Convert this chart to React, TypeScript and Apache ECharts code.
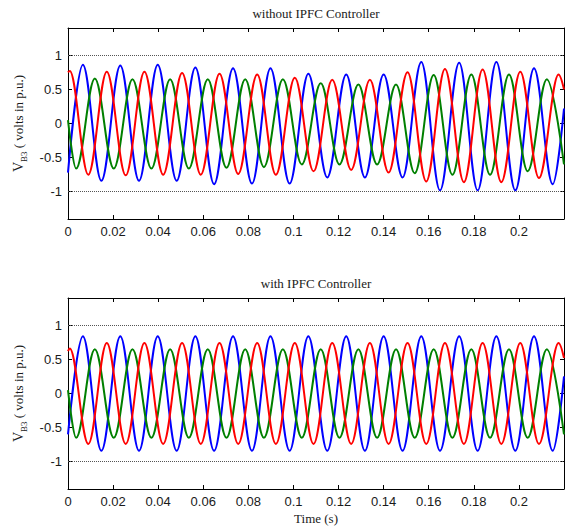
import React, { useEffect, useRef } from "react";
import * as echarts from "echarts";

// ---- data (times in s, values in p.u.) ----
// extrema (peaks / troughs) of each phase, plus the first and last sample
const blueT = [0, 0.0066, 0.0148, 0.0232, 0.0315, 0.0398, 0.0482, 0.0565, 0.0648, 0.0732, 0.0816, 0.0898, 0.0983, 0.1066, 0.115, 0.1234, 0.1317, 0.14, 0.1484, 0.1567, 0.165, 0.1735, 0.1817, 0.19, 0.1984, 0.2067, 0.215, 0.22];
const redT = [0, 0.0008, 0.009, 0.0172, 0.0256, 0.0339, 0.0422, 0.0506, 0.0589, 0.0672, 0.0755, 0.0839, 0.0922, 0.1006, 0.1089, 0.1172, 0.1256, 0.1339, 0.1422, 0.1506, 0.1589, 0.1672, 0.1756, 0.1839, 0.1922, 0.2006, 0.2089, 0.2176, 0.22];
const greenT = [0, 0.0036, 0.0119, 0.0203, 0.0286, 0.037, 0.0453, 0.0536, 0.062, 0.0703, 0.0786, 0.0869, 0.0953, 0.1037, 0.1121, 0.1204, 0.1288, 0.1371, 0.1455, 0.1538, 0.1622, 0.1705, 0.1789, 0.1872, 0.1956, 0.2039, 0.2124, 0.22];

// without IPFC controller
const blueTop = [-0.72, 0.86, -0.84, 0.85, -0.84, 0.86, -0.84, 0.82, -0.89, 0.81, -0.88, 0.81, -0.88, 0.73, -0.79, 0.72, -0.79, 0.72, -0.79, 0.9, -0.98, 0.89, -0.98, 0.9, -0.98, 0.81, -0.89, 0.22];
const redTop = [0.75, 0.77, -0.75, 0.76, -0.76, 0.76, -0.75, 0.74, -0.75, 0.73, -0.74, 0.72, -0.75, 0.67, -0.7, 0.64, -0.68, 0.64, -0.72, 0.75, -0.85, 0.8, -0.86, 0.79, -0.86, 0.76, -0.8, 0.72, 0.5];
const greenTop = [0.05, -0.66, 0.66, -0.66, 0.65, -0.66, 0.65, -0.66, 0.65, -0.65, 0.65, -0.64, 0.65, -0.6, 0.59, -0.6, 0.57, -0.6, 0.57, -0.73, 0.71, -0.75, 0.72, -0.75, 0.72, -0.7, 0.65, -0.6];

// with IPFC controller
const blueBottom = [-0.6, 0.84, -0.84, 0.84, -0.84, 0.84, -0.84, 0.84, -0.84, 0.84, -0.84, 0.84, -0.84, 0.84, -0.84, 0.84, -0.84, 0.84, -0.84, 0.84, -0.84, 0.84, -0.84, 0.84, -0.84, 0.84, -0.84, 0.25];
const redBottom = [0.62, 0.66, -0.74, 0.74, -0.74, 0.74, -0.74, 0.74, -0.74, 0.74, -0.74, 0.74, -0.74, 0.74, -0.74, 0.74, -0.74, 0.74, -0.74, 0.74, -0.74, 0.74, -0.74, 0.74, -0.74, 0.74, -0.74, 0.74, 0.52];
const greenBottom = [0.05, -0.65, 0.65, -0.65, 0.65, -0.65, 0.65, -0.65, 0.65, -0.65, 0.65, -0.65, 0.65, -0.65, 0.65, -0.65, 0.65, -0.65, 0.65, -0.65, 0.65, -0.65, 0.65, -0.65, 0.65, -0.65, 0.65, -0.6];

const xLabelValues = [0, 0.02, 0.04, 0.06, 0.08, 0.1, 0.12, 0.14, 0.16, 0.18, 0.2];
const yTickValues = [-1, -0.5, 0, 0.5, 1];
const refLines = [-1, 1];
const titles = ["without IPFC Controller", "with IPFC Controller"];
const xName = "Time (s)";

const SANS = "'Liberation Sans', Arial, sans-serif";
const SERIF = "'Liberation Serif', 'Times New Roman', serif";

function pairs(t: number[], v: number[]) {
  return t.map((x, i) => [x, v[i]]);
}

export default function App() {
  const ref = useRef<HTMLDivElement>(null);

  useEffect(() => {
    document.body.style.margin = "0";
    if (!ref.current) return;
    const chart = echarts.init(ref.current, null, { renderer: "svg" });

    const gridTops = [28, 298];
    const gridH = 191;
    const left = 68;
    const right = 2;
    const plotW = 566 - left - right;

    const grids = gridTops.map((top) => ({
      left,
      right,
      top,
      height: gridH,
      show: false,
      outerBoundsMode: "none",
    }));

    const xAxes: any[] = [];
    const yAxes: any[] = [];
    gridTops.forEach((_, g) => {
      const common = {
        type: "value",
        gridIndex: g,
        min: 0,
        max: 0.22,
        interval: 0.02,
        splitLine: { show: false },
        axisLine: { show: true, onZero: false, lineStyle: { color: "#000", width: 1 } },
        axisTick: { show: true, inside: true, length: 4, lineStyle: { color: "#000", width: 1 } },
      };
      xAxes.push({
        ...common,
        position: "bottom",
        axisLabel: {
          customValues: xLabelValues,
          formatter: (v: number) => String(+(+v).toFixed(2)),
          fontFamily: SANS,
          fontSize: 13,
          color: "#1a1a1a",
          margin: 6,
        },
        name: g === 1 ? xName : "",
        nameLocation: "middle",
        nameGap: 23,
        nameTextStyle: { fontFamily: SERIF, fontSize: 13, color: "#1a1a1a" },
      });
      xAxes.push({
        ...common,
        position: "top",
        axisLabel: { show: false },
      });
      const ycommon = {
        type: "value",
        gridIndex: g,
        min: -1.4,
        max: 1.4,
        splitLine: { show: false },
        axisLine: { show: true, onZero: false, lineStyle: { color: "#000", width: 1 } },
        axisTick: { show: true, inside: true, length: 4, customValues: yTickValues, lineStyle: { color: "#000", width: 1 } },
      };
      yAxes.push({
        ...ycommon,
        position: "left",
        axisLabel: {
          customValues: yTickValues,
          fontFamily: SANS,
          fontSize: 13,
          color: "#1a1a1a",
          margin: 6,
        },
        name: "{v|V}{s|B3}{t| ( volts in p.u.)}",
        nameLocation: "middle",
        nameRotate: 90,
        nameGap: 38,
        nameTextStyle: {
          fontFamily: SERIF,
          color: "#1a1a1a",
          rich: {
            v: { fontFamily: SERIF, fontSize: 14, lineHeight: 20, verticalAlign: "middle", color: "#1a1a1a" },
            s: { fontFamily: SERIF, fontSize: 9, lineHeight: 9, verticalAlign: "bottom", color: "#1a1a1a" },
            t: { fontFamily: SERIF, fontSize: 13, lineHeight: 16, verticalAlign: "middle", color: "#1a1a1a" },
          },
        },
      });
      yAxes.push({
        ...ycommon,
        position: "right",
        axisLabel: { show: false },
      });
    });

    const sets = [
      [blueTop, greenTop, redTop],
      [blueBottom, greenBottom, redBottom],
    ];
    const times = [blueT, greenT, redT];
    const colors = ["#0000ff", "#008000", "#ff0000"];

    const series: any[] = [];
    sets.forEach((vals, g) => {
      // dotted reference lines at +/-1
      series.push({
        type: "line",
        xAxisIndex: g * 2,
        yAxisIndex: g * 2,
        data: [],
        silent: true,
        markLine: {
          silent: true,
          symbol: "none",
          label: { show: false },
          lineStyle: { type: [1, 1], color: "#555", width: 1 },
          data: refLines.map((y) => ({ yAxis: y })),
        },
      });
      vals.forEach((v, k) => {
        series.push({
          type: "line",
          xAxisIndex: g * 2,
          yAxisIndex: g * 2,
          data: pairs(times[k], v),
          showSymbol: false,
          symbol: "none",
          smooth: 0.36,
          smoothMonotone: "x",
          lineStyle: { color: colors[k], width: 2 },
          itemStyle: { color: colors[k] },
          silent: true,
          clip: true,
        });
      });
    });

    const graphic = titles.map((t, g) => ({
      type: "text",
      x: left + plotW / 2,
      y: gridTops[g] - 15,
      style: {
        text: t,
        font: `13px ${SERIF}`,
        fill: "#1a1a1a",
        textAlign: "center",
        textVerticalAlign: "middle",
      },
    }));

    chart.setOption({
      animation: false,
      backgroundColor: "#fff",
      grid: grids,
      xAxis: xAxes,
      yAxis: yAxes,
      series,
      graphic,
    });

    return () => chart.dispose();
  }, []);

  return <div ref={ref} style={{ width: 566, height: 529 }} />;
}
